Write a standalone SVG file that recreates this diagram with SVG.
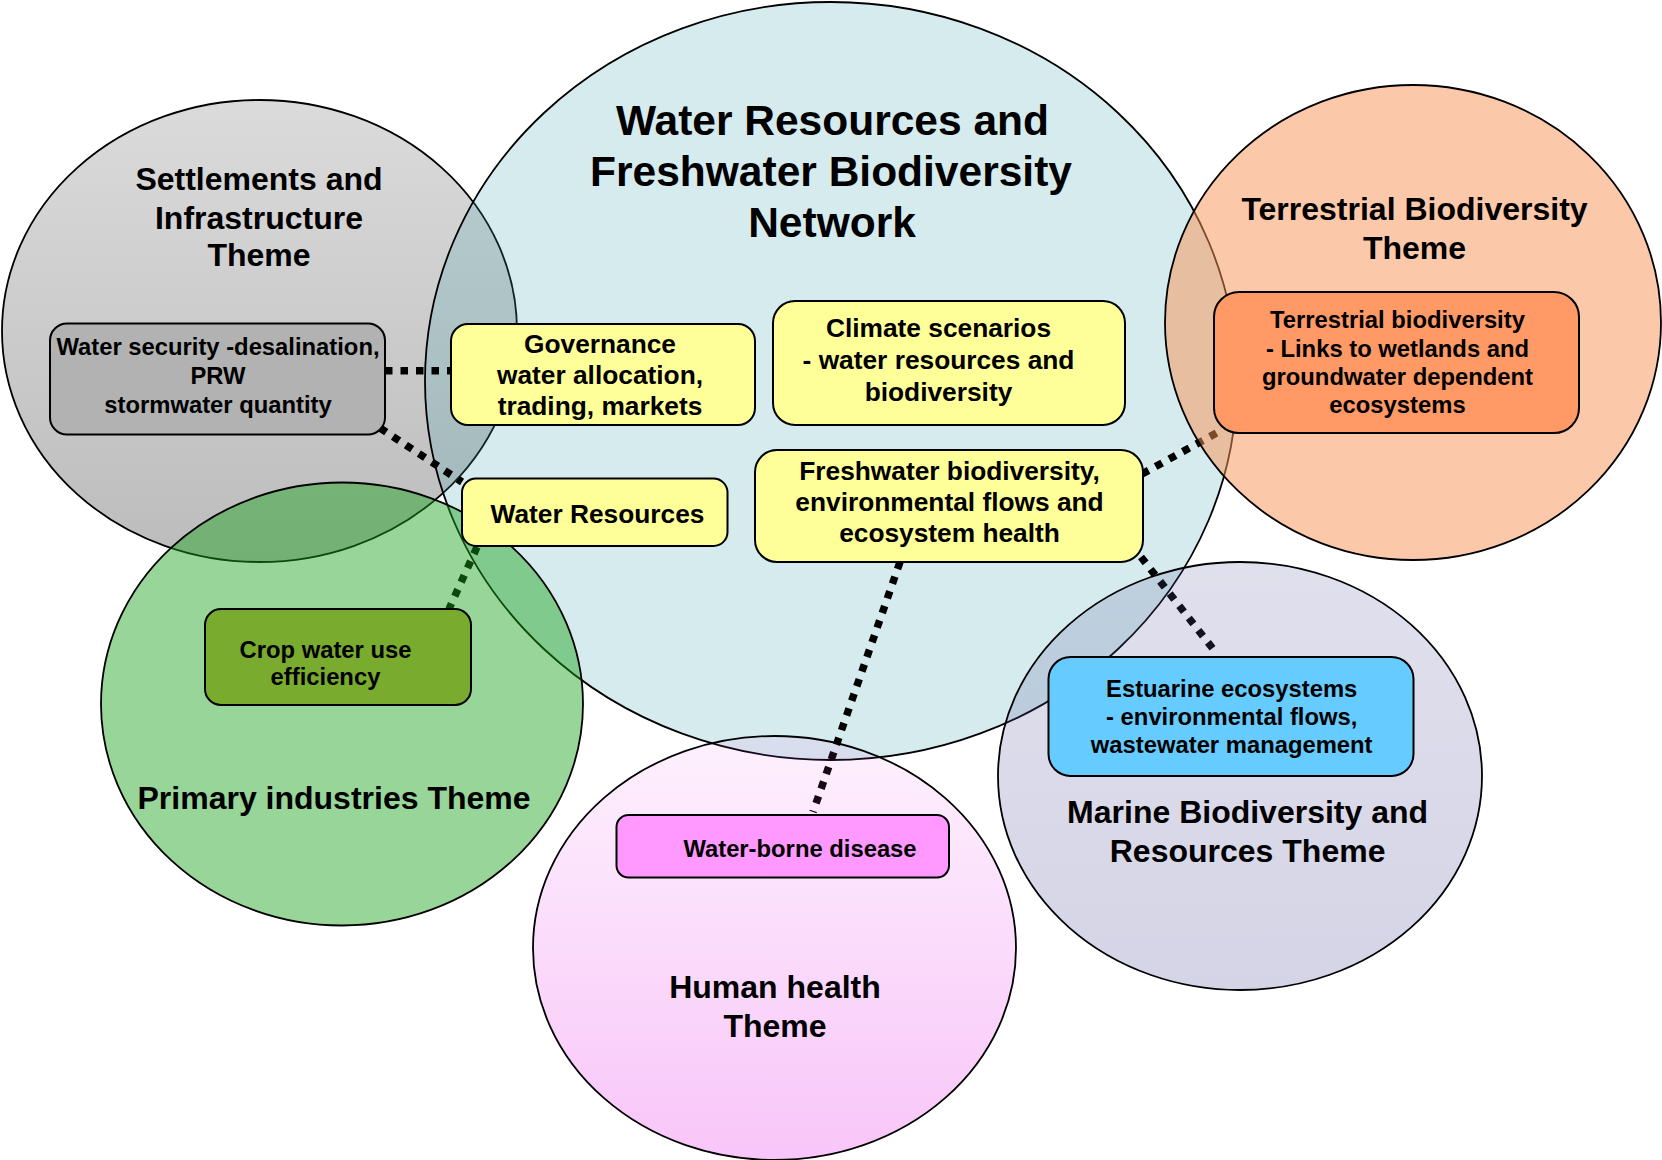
<svg xmlns="http://www.w3.org/2000/svg" width="1662" height="1160" viewBox="0 0 1662 1160">
<style>
  .txt { font-family: "Liberation Sans", Arial, sans-serif; font-weight: bold; fill: #000; text-anchor: middle; }
  .t42 { font-size: 42.5px; }
  .t32 { font-size: 32px; }
  .t26 { font-size: 26.3px; }
  .t24 { font-size: 23.8px; }
  .theme { stroke: #000; stroke-width: 1.8; }
  .box { stroke: #000; stroke-width: 2; }
  .yellow { fill: #ffff99; }
  .conn { fill: none; stroke: #000; stroke-width: 7.5; stroke-dasharray: 7.5 8; stroke-linecap: butt; }
</style>
<defs>
  <linearGradient id="grayGrad" x1="0" y1="0" x2="0" y2="1">
    <stop offset="0" stop-color="#dbdbdb"/>
    <stop offset="1" stop-color="#bcbcbc"/>
  </linearGradient>
  <linearGradient id="pinkGrad" x1="0" y1="0" x2="0" y2="1">
    <stop offset="0" stop-color="#eb50eb" stop-opacity="0.08"/>
    <stop offset="1" stop-color="#eb50eb" stop-opacity="0.33"/>
  </linearGradient>
  <linearGradient id="lavGrad" x1="0" y1="0" x2="0" y2="1">
    <stop offset="0" stop-color="#5a5aa0" stop-opacity="0.19"/>
    <stop offset="1" stop-color="#5a5aa0" stop-opacity="0.26"/>
  </linearGradient>
</defs>

<g id="settlements-theme">
  <ellipse class="theme" cx="259.5" cy="331" rx="257.5" ry="231" fill="url(#grayGrad)"/>
  <text class="txt t32" x="259" y="190">Settlements and</text>
  <text class="txt t32" x="259" y="228.5">Infrastructure</text>
  <text class="txt t32" x="259" y="266">Theme</text>
</g>

<g id="water-network">
  <ellipse class="theme" cx="831" cy="381" rx="406" ry="379" fill="rgb(70,165,175)" fill-opacity="0.22"/>
  <text class="txt t42" x="832.5" y="135">Water Resources and</text>
  <text class="txt t42" x="831" y="186">Freshwater Biodiversity</text>
  <text class="txt t42" x="832" y="236.5">Network</text>
</g>

<g id="connectors">
  <path class="conn" d="M385 370.7 H451"/>
  <path class="conn" d="M380 428 L462 482"/>
  <path class="conn" d="M477 547 L449 609"/>
  <path class="conn" d="M1142 474 L1222 430"/>
  <path class="conn" d="M900 562 L813 812"/>
  <path class="conn" d="M1141 557 L1217 654"/>
</g>

<g id="primary-industries-theme">
  <ellipse class="theme" cx="342" cy="704" rx="241" ry="221.5" fill="rgb(27,162,27)" fill-opacity="0.45"/>
  <text class="txt t32" x="334" y="809.3">Primary industries Theme</text>
</g>

<g id="terrestrial-theme">
  <ellipse class="theme" cx="1413" cy="322.5" rx="248" ry="237.5" fill="rgb(250,145,85)" fill-opacity="0.5"/>
  <text class="txt t32" x="1414.5" y="220">Terrestrial Biodiversity</text>
  <text class="txt t32" x="1414.5" y="259.3">Theme</text>
</g>

<g id="human-health-theme">
  <ellipse class="theme" cx="774.5" cy="948" rx="241.5" ry="212" fill="url(#pinkGrad)"/>
  <text class="txt t32" x="775" y="998.3">Human health</text>
  <text class="txt t32" x="775" y="1036.7">Theme</text>
</g>

<g id="marine-theme">
  <ellipse class="theme" cx="1240" cy="776" rx="242" ry="214" fill="url(#lavGrad)"/>
  <text class="txt t32" x="1247.6" y="823.3">Marine Biodiversity and</text>
  <text class="txt t32" x="1247.6" y="861.7">Resources Theme</text>
</g>

<g id="water-security">
  <rect class="box" x="50" y="323.5" width="335" height="111" rx="17" fill="#b2b2b2"/>
  <text class="txt t24" x="218" y="355">Water security -desalination,</text>
  <text class="txt t24" x="218" y="384">PRW</text>
  <text class="txt t24" x="218" y="413">stormwater quantity</text>
</g>

<g id="governance">
  <rect class="box yellow" x="451" y="324" width="304" height="101" rx="17"/>
  <text class="txt t26" x="600" y="352.7">Governance</text>
  <text class="txt t26" x="600" y="383.5">water allocation,</text>
  <text class="txt t26" x="600" y="414.5">trading, markets</text>
</g>

<g id="water-resources">
  <rect class="box yellow" x="462" y="478.5" width="265.5" height="67.5" rx="14"/>
  <text class="txt t26" x="597.5" y="522.7">Water Resources</text>
</g>

<g id="climate-scenarios">
  <rect class="box yellow" x="773" y="301" width="352" height="124" rx="22"/>
  <text class="txt t26" x="938.5" y="337">Climate scenarios</text>
  <text class="txt t26" x="938.5" y="369">- water resources and</text>
  <text class="txt t26" x="938.5" y="400.5">biodiversity</text>
</g>

<g id="freshwater-biodiversity">
  <rect class="box yellow" x="755" y="450" width="388" height="112" rx="22"/>
  <text class="txt t26" x="949.5" y="480">Freshwater biodiversity,</text>
  <text class="txt t26" x="949.5" y="511">environmental flows and</text>
  <text class="txt t26" x="949.5" y="542">ecosystem health</text>
</g>

<g id="terrestrial-biodiversity">
  <rect class="box" x="1214" y="292" width="365" height="141" rx="25" fill="#ff9966"/>
  <text class="txt t24" x="1397.5" y="328.3">Terrestrial biodiversity</text>
  <text class="txt t24" x="1397.5" y="356.7">- Links to wetlands and</text>
  <text class="txt t24" x="1397.5" y="385">groundwater dependent</text>
  <text class="txt t24" x="1397.5" y="413.3">ecosystems</text>
</g>

<g id="crop-water">
  <rect class="box" x="205" y="609" width="266" height="96" rx="16" fill="#79ab2f"/>
  <text class="txt t24" x="325.5" y="658">Crop water use</text>
  <text class="txt t24" x="325.5" y="685">efficiency</text>
</g>

<g id="estuarine">
  <rect class="box" x="1048.5" y="657" width="365" height="119" rx="22" fill="#66ccff"/>
  <text class="txt t24" x="1231.7" y="696.7">Estuarine ecosystems</text>
  <text class="txt t24" x="1231.7" y="725">- environmental flows,</text>
  <text class="txt t24" x="1231.7" y="753.3">wastewater management</text>
</g>

<g id="water-borne">
  <rect class="box" x="616.5" y="815" width="332.5" height="62.5" rx="12" fill="#ff99ff"/>
  <text class="txt t24" x="800" y="857.3">Water-borne disease</text>
</g>
</svg>
